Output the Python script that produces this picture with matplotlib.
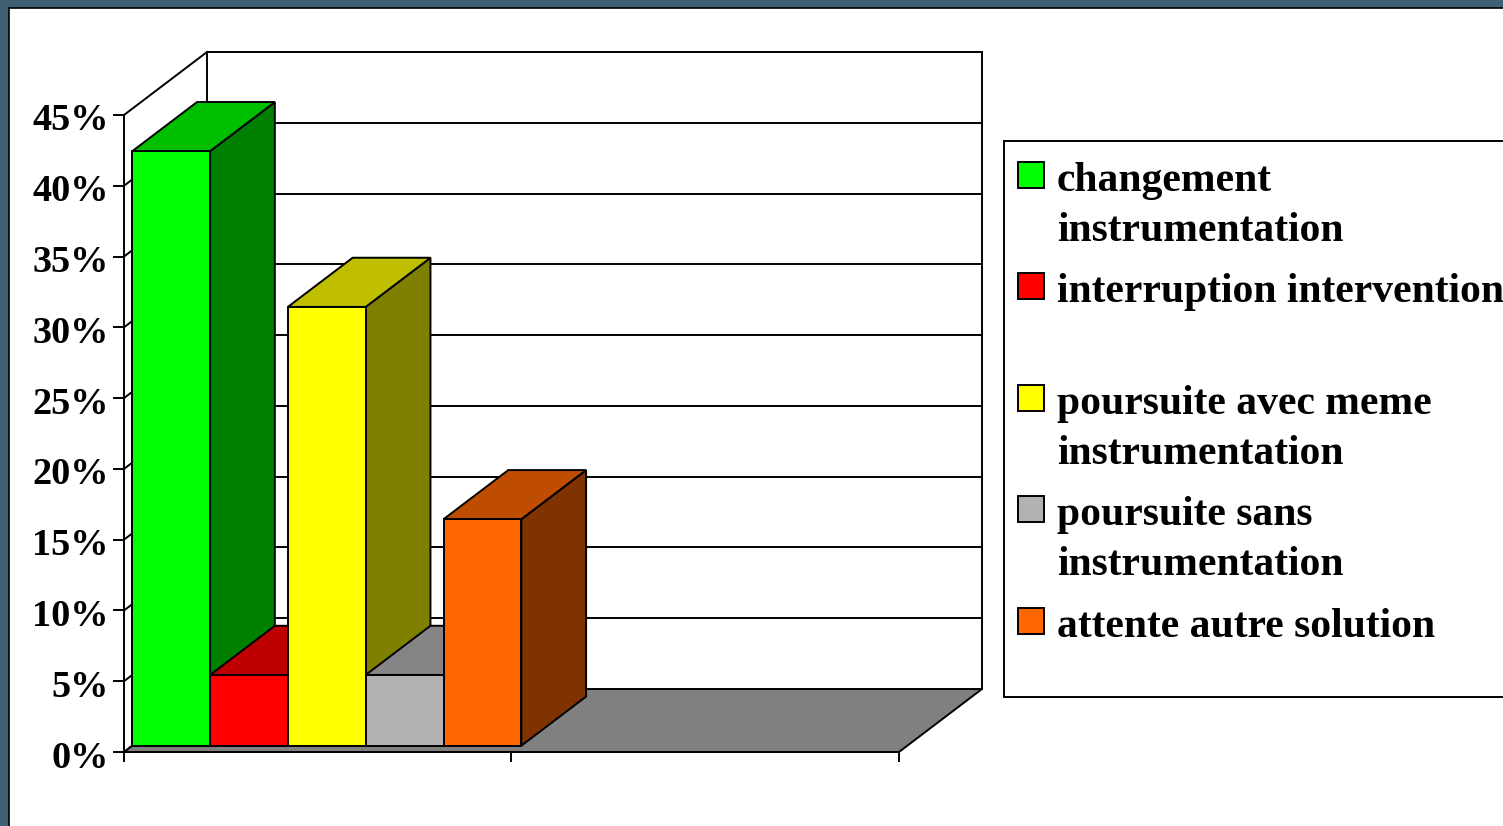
import matplotlib
matplotlib.use("Agg")
import matplotlib.pyplot as plt
from matplotlib.patches import Polygon, Rectangle
from matplotlib.transforms import Affine2D, ScaledTranslation

# Values (percent)
labels = ["changement\ninstrumentation", "interruption intervention",
          "poursuite avec meme\ninstrumentation", "poursuite sans\ninstrumentation",
          "attente autre solution"]
values = [42, 5, 31, 5, 16]
colors = ["#00ff00", "#ff0000", "#ffff00", "#b2b2b2", "#ff6600"]
y_ticks = [0, 5, 10, 15, 20, 25, 30, 35, 40, 45]
y_tick_labels = ["0%", "5%", "10%", "15%", "20%", "25%", "30%", "35%", "40%", "45%"]

W, H = 1503, 826
SERIF = "Liberation Serif"
LW = 1.4

fig = plt.figure(figsize=(W / 100, H / 100), dpi=100, facecolor="#3e6072")
pixels = Affine2D().scale(1 / W, -1 / H).translate(0, 1) + fig.transFigure

# White slide area with its thin black edge, behind the axes
fig.add_artist(Rectangle((9, 8), W, H, transform=pixels, fc="white", ec="black", lw=1.2, zorder=-1))

# The axes is the front plane of the 3D box
ax = fig.add_axes([124 / W, 1 - 752 / H, (899 - 124) / W, (752 - 115) / H])
ax.patch.set_visible(False)
ax.set_xlim(0, 2)
ax.set_ylim(0, 45)
for side in ["top", "right"]:
    ax.spines[side].set_visible(False)
for side in ["left", "bottom"]:
    ax.spines[side].set_linewidth(LW)

# Depth of the box, in data units
depth_x = 83 / 387.5
depth_y = 63 / (637 / 45)


def shifted(x, y, d):
    # d = 0 is the front plane, d = 1 the back wall
    return (x + d * depth_x, y + d * depth_y)


def face(points, color, zorder):
    ax.add_patch(Polygon(points, closed=True, fc=color, ec="black", lw=LW,
                         joinstyle="miter", clip_on=False, zorder=zorder))


def shade(color, factor):
    r, g, b = matplotlib.colors.to_rgb(color)
    return (r * factor, g * factor, b * factor)


# Walls and gridlines
for v in y_ticks:
    x0, y0 = shifted(0, v, 1)
    ax.plot([0, x0], [v, y0], color="black", lw=LW, clip_on=False, zorder=1)
    if v > 0:
        ax.plot([x0, x0 + 2], [y0, y0], color="black", lw=LW, clip_on=False, zorder=1)
top_x, top_y = shifted(0, 45, 1)
floor_y = shifted(0, 0, 1)[1]
ax.plot([top_x, top_x], [floor_y, top_y], color="black", lw=LW, clip_on=False, zorder=1)
ax.plot([top_x + 2, top_x + 2], [floor_y, top_y], color="black", lw=LW, clip_on=False, zorder=1)

# Floor
face([shifted(0, 0, 0), shifted(2, 0, 0), shifted(2, 0, 1), shifted(0, 0, 1)], "#808080", 2)

# Bars, left to right so that each one covers the side of the previous one
bar_w = 1.004 / len(values)
d0, d1 = 0.1, 0.88
for i, (v, c) in enumerate(zip(values, colors)):
    x0, x1 = i * bar_w, (i + 1) * bar_w
    z = 3 + i
    face([shifted(x1, 0, d0), shifted(x1, 0, d1), shifted(x1, v, d1), shifted(x1, v, d0)],
         shade(c, 0.5), z)
    face([shifted(x0, v, d0), shifted(x1, v, d0), shifted(x1, v, d1), shifted(x0, v, d1)],
         shade(c, 0.75), z)
    face([shifted(x0, 0, d0), shifted(x1, 0, d0), shifted(x1, v, d0), shifted(x0, v, d0)],
         c, z)

# Axis ticks
ax.set_xticks([0, 1, 2], ["", "", ""])
ax.set_yticks(y_ticks, y_tick_labels)
ax.tick_params(axis="x", length=7.5, width=LW)
ax.tick_params(axis="y", length=8, width=LW, pad=3)
label_shift = ScaledTranslation(0, -6 / 100, fig.dpi_scale_trans)
for t in ax.get_yticklabels():
    t.set_fontfamily(SERIF)
    t.set_fontweight("bold")
    t.set_fontsize(27.5)
    t.set_verticalalignment("center")
    t.set_transform(t.get_transform() + label_shift)

# Legend box runs off the right side of the picture
fig.add_artist(Rectangle((1004, 141), W, 556, transform=pixels, fc="white", ec="black", lw=LW))
swatch_tops = [162, 273, 385, 496, 608]
for top, label, c in zip(swatch_tops, labels, colors):
    fig.add_artist(Rectangle((1018, top), 26, 26, transform=pixels, fc=c, ec="black", lw=LW))
    fig.text(1057 / W, 1 - top / H, label, family=SERIF, fontweight="bold",
             fontsize=30, va="top", ha="left", linespacing=1.4, color="black")

fig.savefig("out.png", dpi=100, facecolor=fig.get_facecolor())
